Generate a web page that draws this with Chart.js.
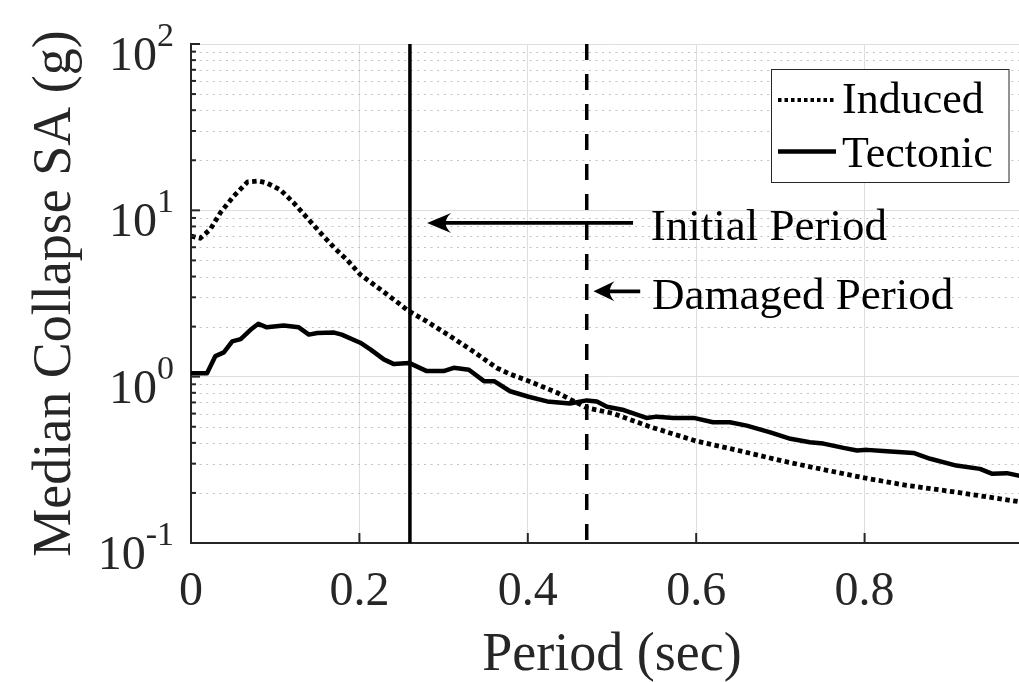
<!DOCTYPE html>
<html>
<head>
<meta charset="utf-8">
<script src="https://cdn.jsdelivr.net/npm/chart.js@4.4.1/dist/chart.umd.min.js"></script>
<style>
html,body{margin:0;padding:0;background:#fff;overflow:hidden;}
#wrap{width:1019px;height:682px;overflow:hidden;position:relative;}
#c{position:absolute;left:0;top:0;}
</style>
</head>
<body>
<div id="wrap"><canvas id="c" width="1040" height="682"></canvas></div>
<script>
// values
const inducedPeriod=[0,0.011,0.023,0.035,0.051,0.067,0.08,0.09,0.106,0.122,0.138,0.154,0.17,0.185,0.201,0.217,0.233,0.259,0.28,0.308,0.335,0.363,0.38,0.399,0.435,0.47,0.502,0.545,0.6,0.65,0.704,0.75,0.8,0.85,0.9,0.95,1.0];
const inducedSA=[7.0,6.8,7.7,9.7,12.2,14.8,15.0,14.6,13.3,11.1,9.0,7.3,5.96,5.06,4.11,3.58,3.12,2.47,2.15,1.75,1.42,1.13,1.03,0.95,0.80,0.65,0.6,0.5,0.41,0.36,0.31,0.277,0.246,0.222,0.205,0.188,0.172];

const tectonicPeriod=[0,0.019,0.029,0.039,0.049,0.059,0.071,0.08,0.09,0.11,0.128,0.14,0.15,0.17,0.179,0.201,0.213,0.229,0.241,0.259,0.28,0.30,0.312,0.33,0.348,0.36,0.379,0.401,0.423,0.45,0.47,0.482,0.494,0.514,0.541,0.553,0.573,0.597,0.62,0.64,0.66,0.688,0.712,0.735,0.751,0.775,0.791,0.803,0.822,0.858,0.878,0.909,0.937,0.951,0.969,0.983,1.0];
const tectonicSA=[1.05,1.05,1.33,1.40,1.63,1.68,1.92,2.08,1.98,2.03,1.98,1.79,1.83,1.84,1.79,1.60,1.46,1.27,1.19,1.21,1.08,1.08,1.13,1.10,0.94,0.94,0.817,0.757,0.71,0.69,0.72,0.71,0.66,0.63,0.565,0.575,0.565,0.565,0.532,0.532,0.508,0.463,0.423,0.403,0.396,0.373,0.36,0.363,0.357,0.348,0.321,0.292,0.279,0.261,0.263,0.254,0.25];

const initialPeriod=0.26;
const damagedPeriod=0.47;

const seriesNames=['Induced','Tectonic'];
const noteNames=['Initial Period','Damaged Period'];
const xTicks=[0,0.2,0.4,0.6,0.8,1];
const xTickLabels=['0','0.2','0.4','0.6','0.8','1'];
const yDecades=[0.1,1,10,100];
const yExponents=['-1','0','1','2'];
const xTitle='Period (sec)';
const yTitle='Median Collapse SA (g)';

const SERIF='"Liberation Serif","Times New Roman",serif';
const AX='#262626';

function arrowLeft(ctx,tip,tail,y,len,half){
  ctx.lineWidth=3.8;
  ctx.beginPath();ctx.moveTo(tail,y);ctx.lineTo(tip+len*0.6,y);ctx.stroke();
  ctx.beginPath();
  ctx.moveTo(tip,y);
  ctx.lineTo(tip+len,y-half);
  ctx.quadraticCurveTo(tip+len*0.55,y,tip+len,y+half);
  ctx.closePath();ctx.fill();
}

const decor={
  id:'decor',
  beforeDatasetsDraw(chart){
    const {ctx,chartArea:a,scales:{y}}=chart;
    ctx.save();
    ctx.beginPath();ctx.rect(a.left,a.top,a.right-a.left,a.bottom-a.top);ctx.clip();
    ctx.strokeStyle='#c2c2c2';ctx.lineWidth=1;ctx.setLineDash([2,4.6]);
    for(let d=0;d<yDecades.length-1;d++){
      for(let m=2;m<=9;m++){
        const py=Math.round(y.getPixelForValue(yDecades[d]*m))+0.5;
        ctx.beginPath();ctx.moveTo(a.left+2,py);ctx.lineTo(a.right,py);ctx.stroke();
      }
    }
    ctx.restore();
  },
  afterDatasetsDraw(chart){
    const {ctx,chartArea:a,scales:{x,y}}=chart;
    ctx.save();
    // inward tick marks
    ctx.strokeStyle=AX;ctx.lineWidth=2;
    for(let d=0;d<yDecades.length;d++){
      const py=y.getPixelForValue(yDecades[d]);
      ctx.beginPath();ctx.moveTo(a.left,py);ctx.lineTo(a.left+9,py);ctx.stroke();
      if(d<yDecades.length-1){
        for(let m=2;m<=9;m++){
          const q=y.getPixelForValue(yDecades[d]*m);
          ctx.beginPath();ctx.moveTo(a.left,q);ctx.lineTo(a.left+5,q);ctx.stroke();
        }
      }
    }
    xTicks.forEach(v=>{
      const px=x.getPixelForValue(v);
      ctx.beginPath();ctx.moveTo(px,a.bottom);ctx.lineTo(px,a.bottom-10);ctx.stroke();
    });

    // tick labels
    ctx.fillStyle=AX;ctx.textBaseline='alphabetic';
    ctx.font='48px '+SERIF;ctx.textAlign='center';
    xTicks.forEach((v,i)=>{
      ctx.fillText(xTickLabels[i],x.getPixelForValue(v),605);
    });
    const right=174;
    yDecades.forEach((v,i)=>{
      const py=y.getPixelForValue(v);
      ctx.font='34px '+SERIF;
      const sw=ctx.measureText(yExponents[i]).width;
      ctx.textAlign='left';
      ctx.fillText(yExponents[i],right-sw,py+2);
      ctx.font='48px '+SERIF;
      ctx.textAlign='right';
      ctx.fillText('10',right-sw,py+26);
    });

    // axis titles
    ctx.font='54px '+SERIF;ctx.textAlign='center';
    ctx.fillText(xTitle,(a.left+a.right)/2,670);
    ctx.save();
    ctx.translate(70,(a.top+a.bottom)/2);
    ctx.rotate(-Math.PI/2);
    ctx.fillText(yTitle,0,0);
    ctx.restore();

    // annotations
    ctx.fillStyle='#000';ctx.strokeStyle='#000';
    const y1=y.getPixelForValue(8.4);
    arrowLeft(ctx,x.getPixelForValue(0.2804),x.getPixelForValue(0.525),y1,24,10);
    const y2=y.getPixelForValue(3.26);
    arrowLeft(ctx,x.getPixelForValue(0.478),x.getPixelForValue(0.5335),y2,21,10);
    ctx.font='45px '+SERIF;ctx.textAlign='left';
    ctx.fillText(noteNames[0],x.getPixelForValue(0.546),y1+17);
    ctx.fillText(noteNames[1],x.getPixelForValue(0.5475),y2+18);

    // legend
    const bx=a.right-262,by=a.top+25,bw=237.5,bh=113;
    ctx.fillStyle='#fff';ctx.fillRect(bx,by,bw,bh);
    ctx.strokeStyle=AX;ctx.lineWidth=1;ctx.strokeRect(bx+0.5,by+0.5,bw,bh);
    ctx.strokeStyle='#000';
    ctx.lineWidth=4;ctx.setLineDash([3.5,3]);
    ctx.beginPath();ctx.moveTo(bx+7,by+31);ctx.lineTo(bx+65,by+31);ctx.stroke();
    ctx.setLineDash([]);ctx.lineWidth=4.5;
    ctx.beginPath();ctx.moveTo(bx+7,by+82.5);ctx.lineTo(bx+65,by+82.5);ctx.stroke();
    ctx.fillStyle='#000';ctx.font='44px '+SERIF;ctx.textAlign='left';
    ctx.fillText(seriesNames[0],bx+71,by+44);
    ctx.fillText(seriesNames[1],bx+71,by+98);
    ctx.restore();
  }
};

const line=(px,py)=>px.map((p,i)=>({x:p,y:py[i]}));

new Chart(document.getElementById('c'),{
  type:'line',
  data:{
    datasets:[
      {label:seriesNames[0],data:line(inducedPeriod,inducedSA),borderColor:'#000',borderWidth:4.8,borderDash:[4.5,3.5],pointRadius:0,tension:0},
      {label:seriesNames[1],data:line(tectonicPeriod,tectonicSA),borderColor:'#000',borderWidth:4.5,borderJoinStyle:'round',pointRadius:0,tension:0},
      {label:noteNames[0],data:[{x:initialPeriod,y:100},{x:initialPeriod,y:0.1}],borderColor:'#000',borderWidth:3.5,pointRadius:0},
      {label:noteNames[1],data:[{x:damagedPeriod,y:100},{x:damagedPeriod,y:0.1}],borderColor:'#000',borderWidth:3.5,borderDash:[16,14],pointRadius:0}
    ]
  },
  options:{
    responsive:false,
    animation:false,
    devicePixelRatio:1,
    layout:{padding:{top:44,right:7,left:0,bottom:0}},
    plugins:{legend:{display:false},tooltip:{enabled:false}},
    scales:{
      x:{
        type:'linear',min:0,max:1,
        afterBuildTicks:s=>{s.ticks=xTicks.map(v=>({value:v}));},
        afterFit:s=>{s.height=139;},
        ticks:{display:false},
        grid:{color:'#dedede',lineWidth:1,drawTicks:false},
        border:{color:AX,width:2}
      },
      y:{
        type:'logarithmic',min:0.1,max:100,
        afterBuildTicks:s=>{s.ticks=yDecades.map(v=>({value:v,major:true}));},
        afterFit:s=>{s.width=191;},
        ticks:{display:false},
        grid:{color:'#dedede',lineWidth:1,drawTicks:false},
        border:{color:AX,width:2}
      }
    }
  },
  plugins:[decor]
});
</script>
</body>
</html>
